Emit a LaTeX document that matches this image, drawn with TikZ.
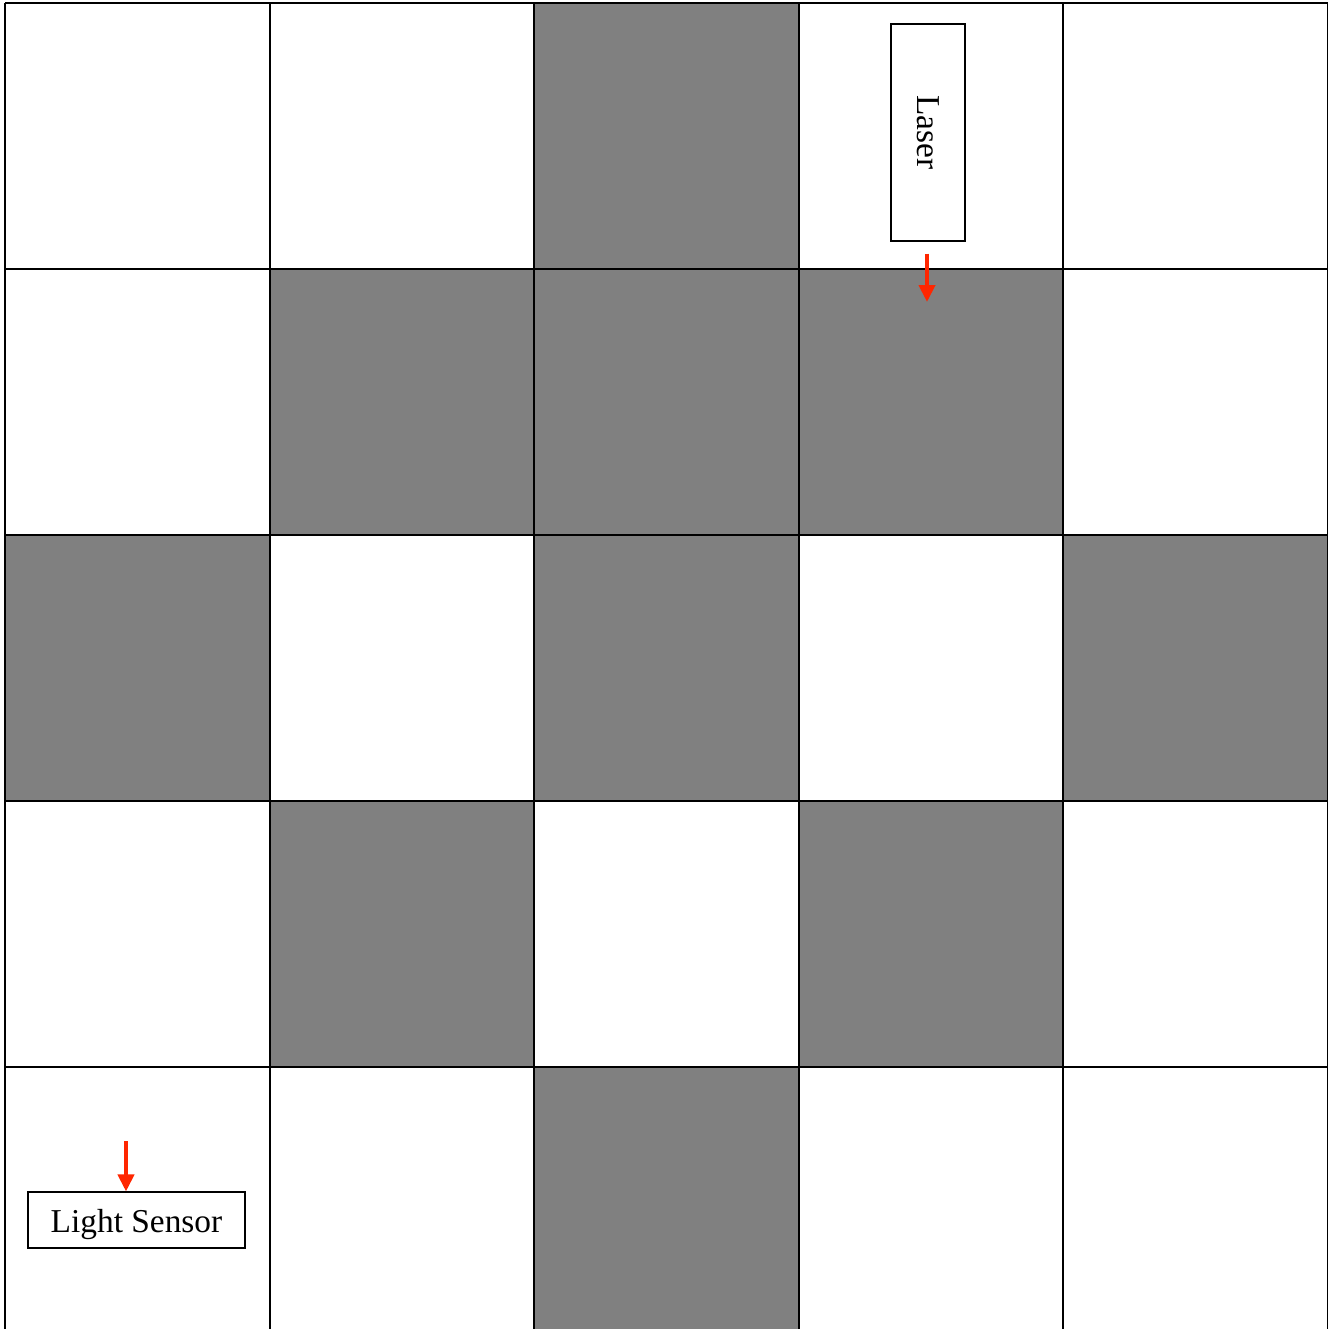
\documentclass[tikz,border=0pt]{standalone}
\usepackage{fontspec}
\setmainfont{Liberation Serif}
\usetikzlibrary{arrows.meta,positioning}
\definecolor{beamred}{RGB}{255,38,0}

\begin{document}
\begin{tikzpicture}[
  x=0.02cm,y=-0.02cm,
  cell/.style={fill=gray},
  gridline/.style={line width=0.04cm},
  labelbox/.style={draw,line width=0.6pt,fill=white,inner sep=0pt,
                   font=\fontsize{19}{22}\selectfont},
  beam/.style={-{Triangle[length=0.34cm,width=0.32cm]},line width=0.08cm,beamred}
]
  \useasboundingbox (0,0) rectangle (1328,1329);
  \clip (0,0) rectangle (1328,1329);

  % board
  \foreach \r/\c in {0/2,1/1,1/2,1/3,2/0,2/2,2/4,3/1,3/3,4/2}{
    \fill[cell] ({5+\c*264.6},{3+\r*266}) rectangle ++(264.6,266);
  }
  \foreach \i in {0,...,5}{
    \draw[gridline] ({5+\i*264.6},3) -- ({5+\i*264.6},1340);
    \draw[gridline] (5,{3+\i*266}) -- (1328,{3+\i*266});
  }

  % laser and sensor
  \node[labelbox,minimum width=1.48cm,minimum height=4.34cm] (laser) at (928,132.5)
    {\rotatebox{-90}{Laser}};
  \node[labelbox,minimum width=4.34cm,minimum height=1.12cm] (sensor) at (136.5,1220)
    {\raisebox{-0.24cm}[0pt][0pt]{Light Sensor}};

  \coordinate (laserbeam) at (927,302);
  \coordinate (sensorbeam) at (126,1141);
  \draw[beam,shorten <=0.24cm] (laser.south -| laserbeam) -- (laserbeam);
  \draw[beam] (sensorbeam) -- (sensorbeam |- sensor.north);
\end{tikzpicture}
\end{document}
